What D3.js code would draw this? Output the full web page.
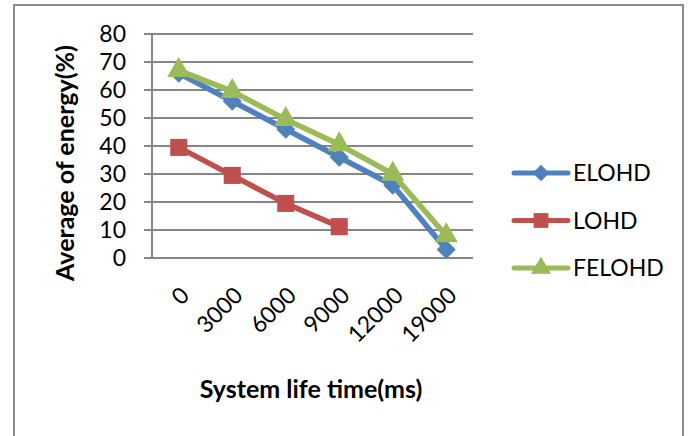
<!DOCTYPE html>
<html>
<head>
<meta charset="utf-8">
<script src="https://cdn.jsdelivr.net/npm/d3@7"></script>
<style>
  body { margin: 0; background: #fff; }
  text { font-family: Lato, "Liberation Sans", sans-serif; fill: #000; }
</style>
</head>
<body>
<svg id="chart"></svg>
<script>
var width = 690, height = 436;

// data
var categories = ["0", "3000", "6000", "9000", "12000", "19000"];
var elohd = [66, 56, 46, 36, 26, 3];
var lohd = [39.5, 29.5, 19.5, 11.2];
var felohd = [67, 59.5, 49.5, 40.5, 30, 8];
var yTicks = [0, 10, 20, 30, 40, 50, 60, 70, 80];

var series = [
    {name: "ELOHD", values: elohd, color: "#4F81BD", symbol: d3.symbolDiamond2, size: 230},
    {name: "LOHD", values: lohd, color: "#C0504D", symbol: d3.symbolSquare2, size: 370},
    {name: "FELOHD", values: felohd, color: "#9BBB59", symbol: d3.symbolTriangle2, size: 380}
];

var plot = {left: 152, right: 473, top: 34, bottom: 258};

var svg = d3.select("#chart")
    .attr("width", width)
    .attr("height", height);

// outer frame (bottom edge runs off the picture)
svg.append("path")
    .attr("d", "M14,440 V5 H683 V440")
    .style("fill", "none")
    .style("stroke", "#8c8c8c")
    .style("stroke-width", 2);

var x = d3.scaleBand().domain(categories).range([plot.left, plot.right]);
var y = d3.scaleLinear().domain([0, 80]).range([plot.bottom, plot.top]);

// gridlines + y ticks
var gGrid = svg.append("g");
gGrid.selectAll("line")
    .data(yTicks)
    .enter().append("line")
    .attr("x1", plot.left - 8)
    .attr("x2", plot.right)
    .attr("y1", function(d) { return y(d); })
    .attr("y2", function(d) { return y(d); })
    .style("stroke", "#868686")
    .style("stroke-width", 2);

// y axis line
svg.append("line")
    .attr("x1", plot.left).attr("x2", plot.left)
    .attr("y1", plot.top).attr("y2", plot.bottom)
    .style("stroke", "#868686")
    .style("stroke-width", 2);

svg.append("g").selectAll("text")
    .data(yTicks)
    .enter().append("text")
    .attr("x", 126)
    .attr("y", function(d) { return y(d); })
    .attr("dy", "0.36em")
    .attr("text-anchor", "end")
    .style("font-size", "23px")
    .text(function(d) { return d; });

// x tick labels, rotated
svg.append("g").selectAll("text")
    .data(categories)
    .enter().append("text")
    .attr("transform", function(d) {
        return "translate(" + (x(d) + x.bandwidth() / 2 + 6) + "," + 291 + ") rotate(-45)";
    })
    .attr("dy", "0.36em")
    .attr("text-anchor", "end")
    .style("font-size", "23px")
    .text(function(d) { return d; });

// axis titles
svg.append("text")
    .attr("x", 311)
    .attr("y", 398)
    .attr("text-anchor", "middle")
    .style("font-size", "25px")
    .style("font-weight", "bold")
    .text("System life time(ms)");

svg.append("text")
    .attr("transform", "translate(74,163) rotate(-90)")
    .attr("text-anchor", "middle")
    .style("font-size", "25px")
    .style("font-weight", "bold")
    .text("Average of energy(%)");

// series lines and markers
var line = d3.line()
    .x(function(d, i) { return x(categories[i]) + x.bandwidth() / 2; })
    .y(function(d) { return y(d); });

series.forEach(function(s) {
    var g = svg.append("g");
    g.append("path")
        .attr("d", line(s.values))
        .style("fill", "none")
        .style("stroke", s.color)
        .style("stroke-width", 5.5)
        .style("stroke-linejoin", "round");
    g.selectAll("path.marker")
        .data(s.values)
        .enter().append("path")
        .attr("class", "marker")
        .attr("transform", function(d, i) {
            return "translate(" + (x(categories[i]) + x.bandwidth() / 2) + "," + y(d) + ")";
        })
        .attr("d", d3.symbol().type(s.symbol).size(s.size))
        .style("fill", s.color);
});

// legend
var legend = svg.append("g");
series.forEach(function(s, i) {
    var ly = 173 + i * 47.5;
    legend.append("line")
        .attr("x1", 514).attr("x2", 568)
        .attr("y1", ly).attr("y2", ly)
        .style("stroke", s.color)
        .style("stroke-width", 5)
        .style("stroke-linecap", "round");
    legend.append("path")
        .attr("transform", "translate(541," + ly + ")")
        .attr("d", d3.symbol().type(s.symbol).size(s.size * 0.75))
        .style("fill", s.color);
    legend.append("text")
        .attr("x", 573)
        .attr("y", ly)
        .attr("dy", "0.36em")
        .style("font-size", "23px")
        .text(s.name);
});
</script>
</body>
</html>
